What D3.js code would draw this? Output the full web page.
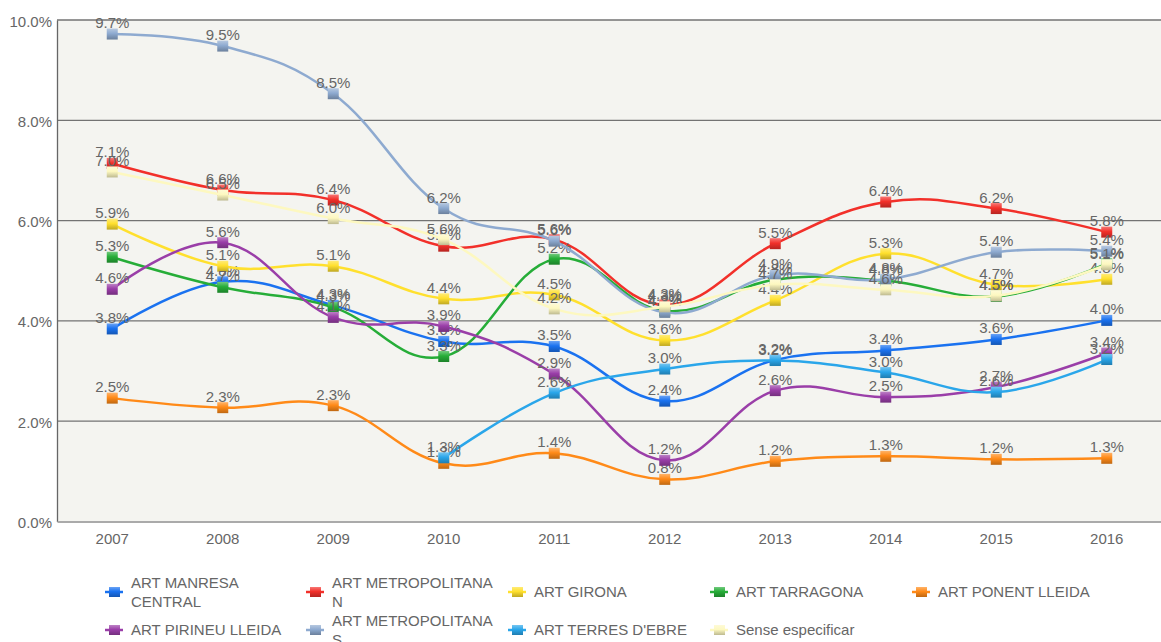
<!DOCTYPE html>
<html><head><meta charset="utf-8">
<script src="https://cdn.jsdelivr.net/npm/d3@7/dist/d3.min.js"></script>
<style>
html,body{margin:0;padding:0;background:#fff;}
svg{display:block;font-family:"Liberation Sans",Arial,sans-serif;}
</style></head>
<body>
<svg id="chart" width="1161" height="642"></svg>
<script>
const years = [2007, 2008, 2009, 2010, 2011, 2012, 2013, 2014, 2015, 2016];
const yTicks = [0, 2, 4, 6, 8, 10];

const seriesNames = ["ART MANRESA CENTRAL", "ART METROPOLITANA N", "ART GIRONA", "ART TARRAGONA",
  "ART PONENT LLEIDA", "ART PIRINEU LLEIDA", "ART METROPOLITANA S", "ART TERRES D'EBRE", "Sense especificar"];
const seriesColors = ["#1a72f0", "#f2302a", "#ffe02e", "#26ad38", "#ff8a18", "#9a3ea8", "#8eaad0", "#2aa6ea", "#fdf8c0"];

const manresa   = [3.84, 4.78, 4.31, 3.59, 3.49, 2.40, 3.22, 3.41, 3.63, 4.01];
const metroN    = [7.14, 6.61, 6.41, 5.49, 5.62, 4.32, 5.54, 6.37, 6.24, 5.77];
const girona    = [5.93, 5.09, 5.09, 4.44, 4.52, 3.61, 4.41, 5.34, 4.72, 4.83];
const tarragona = [5.27, 4.67, 4.27, 3.29, 5.23, 4.20, 4.82, 4.80, 4.49, 5.14];
const ponent    = [2.46, 2.27, 2.31, 1.16, 1.36, 0.84, 1.20, 1.30, 1.24, 1.26];
const pirineu   = [4.63, 5.56, 4.07, 3.89, 2.94, 1.22, 2.61, 2.48, 2.68, 3.36];
const metroS    = [9.72, 9.48, 8.53, 6.24, 5.59, 4.17, 4.91, 4.83, 5.37, 5.39];
const terres    = [null, null, null, 1.27, 2.56, 3.04, 3.21, 2.97, 2.58, 3.23];
const sense     = [6.97, 6.51, 6.04, 5.62, 4.24, 4.28, 4.72, 4.62, 4.50, 5.12];

const seriesValues = [manresa, metroN, girona, tarragona, ponent, pirineu, metroS, terres, sense];

const svg = d3.select("#chart");
const plot = {left: 57, right: 1162, top: 20, bottom: 521.5};

const x = d3.scaleBand().domain(years).range([plot.left, plot.right]);
const y = d3.scaleLinear().domain([0, 10]).range([plot.bottom, plot.top]);
const cx = d => x(d) + x.bandwidth() / 2;

const defs = svg.append("defs");
seriesColors.forEach((c, i) => {
  const g = defs.append("linearGradient").attr("id", "mg" + i)
    .attr("x1", 0).attr("y1", 0).attr("x2", 0).attr("y2", 1);
  g.append("stop").attr("offset", "0%").attr("stop-color", d3.interpolateRgb(c, "#fff")(0.35));
  g.append("stop").attr("offset", "45%").attr("stop-color", c);
  g.append("stop").attr("offset", "100%").attr("stop-color", d3.interpolateRgb(c, "#000")(0.25));
});

// plot background
svg.append("rect").attr("x", plot.left).attr("y", plot.top)
  .attr("width", plot.right - plot.left).attr("height", plot.bottom - plot.top)
  .attr("fill", "#f4f4f0");

// gridlines
svg.append("g").selectAll("line").data(yTicks.filter(t => t > 0)).join("line")
  .attr("x1", plot.left).attr("x2", plot.right)
  .attr("y1", d => y(d)).attr("y2", d => y(d))
  .attr("stroke", "#737373").attr("stroke-width", 1.3);

// axes
const yAxis = svg.append("g").attr("transform", `translate(${plot.left},0)`)
  .call(d3.axisLeft(y).tickValues(yTicks).tickFormat(d => d.toFixed(1) + "%").tickSize(0).tickPadding(5));
yAxis.select(".domain").attr("stroke", "#666").attr("stroke-width", 1.3);
yAxis.selectAll("text").attr("font-size", 15).attr("fill", "#666")
  .attr("font-family", "Liberation Sans, Arial, sans-serif").attr("dy", "0.4em");

const xAxis = svg.append("g").attr("transform", `translate(0,${plot.bottom})`)
  .call(d3.axisBottom(x).tickSize(0).tickPadding(12));
xAxis.select(".domain").attr("stroke", "#aaa").attr("stroke-width", 2);
xAxis.selectAll("text").attr("font-size", 15).attr("fill", "#666")
  .attr("font-family", "Liberation Sans, Arial, sans-serif");

const line = d3.line()
  .defined(d => d.v != null)
  .x(d => cx(d.year)).y(d => y(d.v))
  .curve(d3.curveCardinal.tension(-0.2));

const layer = svg.append("g");
seriesValues.forEach((vals, i) => {
  const pts = years.map((yr, j) => ({year: yr, v: vals[j]}));
  const g = layer.append("g");
  g.append("path").datum(pts).attr("d", line)
    .attr("fill", "none").attr("stroke", seriesColors[i]).attr("stroke-width", 2.5);
  const valid = pts.filter(p => p.v != null);
  g.selectAll("rect").data(valid).join("rect")
    .attr("x", d => cx(d.year) - 5.5).attr("y", d => y(d.v) - 5.5)
    .attr("width", 11).attr("height", 11)
    .attr("fill", i === 8 ? "url(#mg8)" : `url(#mg${i})`);
  g.selectAll("text").data(valid).join("text")
    .attr("x", d => cx(d.year)).attr("y", d => y(d.v) - 6)
    .attr("text-anchor", "middle").attr("font-size", 15).attr("fill", "#666")
    .text(d => d.v.toFixed(1) + "%");
});

// legend
const legend = svg.append("g");
const colX = [107, 308, 510, 712, 914];
const rowY = [592, 630];
seriesNames.forEach((name, i) => {
  const col = i % 5, row = Math.floor(i / 5);
  const lx = colX[col], ly = rowY[row];
  const g = legend.append("g");
  g.append("line").attr("x1", lx - 2).attr("x2", lx + 16).attr("y1", ly).attr("y2", ly)
    .attr("stroke", seriesColors[i]).attr("stroke-width", 2.5);
  g.append("rect").attr("x", lx + 2).attr("y", ly - 5).attr("width", 11).attr("height", 10)
    .attr("fill", `url(#mg${i})`);
  const t = g.append("text").attr("x", lx + 24).attr("font-size", 15).attr("fill", "#666");
  // wrap words into lines of max width
  const words = name.split(" ");
  const lines = [];
  let cur = "";
  const probe = g.append("text").attr("font-size", 15);
  words.forEach(w => {
    const test = cur ? cur + " " + w : w;
    probe.text(test);
    if (probe.node().getComputedTextLength() > 168 && cur) { lines.push(cur); cur = w; }
    else cur = test;
  });
  lines.push(cur);
  probe.remove();
  const lh = 19;
  const first = ly + 5 - (lines.length - 1) * lh / 2;
  lines.forEach((ln, k) => {
    t.append("tspan").attr("x", lx + 24).attr("y", first + k * lh).text(ln);
  });
});
</script>
</body></html>
